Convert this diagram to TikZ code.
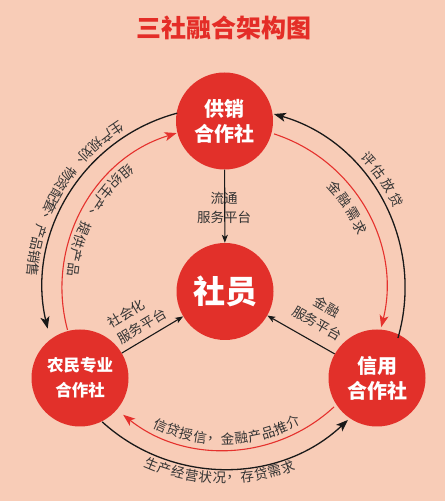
\documentclass[tikz,border=0pt]{standalone}
\usepackage{fontspec}
\newfontfamily\cjk{Noto Sans CJK SC}
\usetikzlibrary{arrows.meta}
\definecolor{bgc}{HTML}{F8CCB7}
\definecolor{nodered}{HTML}{E2302A}
\definecolor{arcred}{HTML}{E5312D}
\definecolor{txt}{HTML}{333333}
\definecolor{titlered}{HTML}{E42D27}
\newcommand\arctext[6]{% radius, start, step, rotoffset, name, list
  \foreach \xx [count=\i from 0] in {#6} {
    \pgfmathsetmacro\aa{#2+\i*#3}
    \node[ch, rotate=\aa+#4] (#5\i) at ([shift={(\aa:#1)}]O) {\xx};
  }}
\begin{document}
\begin{tikzpicture}[x=1bp,y=1bp,
  org/.style={circle, fill=nodered, minimum size=97bp, inner sep=0, text=white,
    font=\cjk\bfseries\fontsize{20bp}{25bp}\selectfont, align=center},
  blk/.style={draw=black!90, line width=1.3bp, -{Stealth[length=12bp,width=9bp,inset=3bp]}},
  redl/.style={draw=arcred, line width=1.1bp, -{Stealth[length=12bp,width=9bp,inset=3bp]}},
  str/.style={draw=black!90, line width=1.1bp, -{Stealth[length=8bp,width=6bp,inset=2bp]}},
  lab/.style={text=txt, font=\cjk\fontsize{13.5bp}{19bp}\selectfont, inner sep=0},
  ch/.style={text=txt, font=\cjk\fontsize{13.5bp}{13.5bp}\selectfont, inner sep=0}
]
\fill[bgc] (0,0) rectangle (445,501);
\useasboundingbox (0,0) rectangle (445,501);
\coordinate (O) at (224,213);

\node[font=\cjk\bfseries\fontsize{25bp}{25bp}\selectfont, text=titlered] (title) at (224,473) {三社融合架构图};

\node[org] (T) at (224.5,380) {供销\\合作社};
\node[org, font=\cjk\bfseries\fontsize{32bp}{32bp}\selectfont] (C) at (225,209.5) {社员};
\node[org, font=\cjk\bfseries\fontsize{16.5bp}{25bp}\selectfont] (L) at (80,123) {农民专业\\合作社};
\node[org] (R) at (377,123) {信用\\合作社};

% outer black arcs
\draw[blk] ([shift={(105:181)}]O) arc[start angle=105, end angle=193, radius=181];
\draw[blk] ([shift={(-16:181)}]O) arc[start angle=-16, end angle=74, radius=181];
\draw[blk] ([shift={(-132.3:181)}]O) arc[start angle=-132.3, end angle=-46.8, radius=181];
% inner red arcs
\draw[redl] ([shift={(195:162)}]O) arc[start angle=195, end angle=107, radius=162];
\draw[redl] ([shift={(72:162)}]O) arc[start angle=72, end angle=-14, radius=162];
\draw[redl] ([shift={(-47.2:162)}]O) arc[start angle=-47.2, end angle=-128.5, radius=162];

% straight arrows
\draw[str] (T) -- (C);
\draw[str] (L) -- (C);
\draw[str] (R) -- (C);

\node[lab, align=center] (lt) at (224,293.5) {流通\\服务平台};
\node[lab, align=left, rotate=31] (ll) at (137,183) {社会化\\服务平台};
\node[lab, align=center, rotate=-30] (lr) at (322,186) {金融\\服务平台};

% arc labels
\arctext{192}{124}{3.89}{90}{a}{生,产,规,划,、,物,资,配,套,、,产,品,销,售}
\arctext{152}{130}{5.375}{90}{b}{组,织,生,产,、,提,供,产,品}
\arctext{193.5}{41.6}{-4.87}{-90}{c}{评,估,放,贷}
\arctext{149}{42}{-6}{-90}{d}{金,融,需,求}
\arctext{151}{-114.7}{5.21}{90}{e}{信,贷,授,信,，,金,融,产,品,推,介}
\arctext{190}{-112.4}{4.2}{90}{f}{生,产,经,营,状,况,，,存,贷,需,求}
\end{tikzpicture}
\end{document}
